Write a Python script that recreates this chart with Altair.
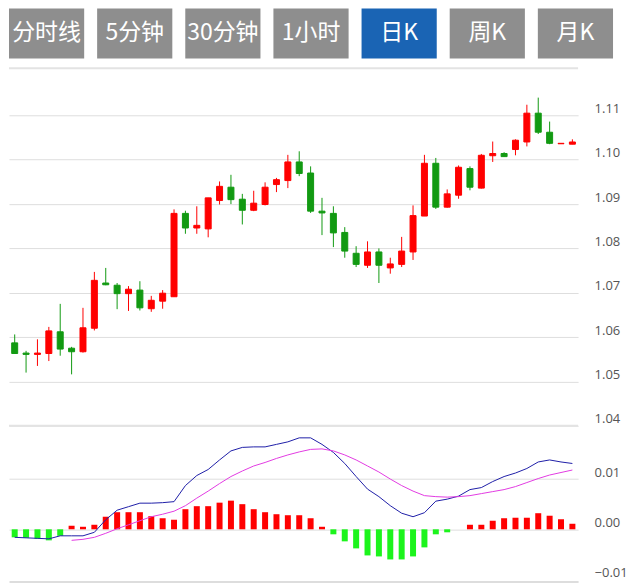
import altair as alt
import pandas as pd
import numpy as np

# ---------------- data ----------------
tabs = ["分时线", "5分钟", "30分钟", "1小时", "日K", "周K", "月K"]
active_tab = "日K"

opens = [1.0587, 1.0564, 1.0561, 1.0563, 1.0612, 1.0575, 1.0567, 1.0620, 1.0722, 1.0717,
         1.0698, 1.0706, 1.0664, 1.0681, 1.0691, 1.0879, 1.0846, 1.0844, 1.0908, 1.0938,
         1.0911, 1.0886, 1.0899, 1.0944, 1.0953, 1.0995, 1.0970, 1.0884, 1.0879, 1.0836,
         1.0789, 1.0762, 1.0792, 1.0756, 1.0764, 1.0792, 1.0873, 1.0992, 1.0893, 1.0920,
         1.0980, 1.0936, 1.1009, 1.1014, 1.1023, 1.1040, 1.1105, 1.1062, 1.1036, 1.1035]
highs = [1.0606, 1.0569, 1.0595, 1.0623, 1.0675, 1.0578, 1.0666, 1.0747, 1.0756, 1.0722,
         1.0715, 1.0726, 1.0693, 1.0706, 1.0888, 1.0885, 1.0895, 1.0914, 1.0951, 1.0966,
         1.0923, 1.0930, 1.0949, 1.0959, 1.1011, 1.1019, 1.0985, 1.0914, 1.0895, 1.0848,
         1.0805, 1.0816, 1.0800, 1.0779, 1.0826, 1.0897, 1.1011, 1.1004, 1.0933, 1.0987,
         1.0985, 1.1013, 1.1041, 1.1017, 1.1046, 1.1124, 1.1140, 1.1086, 1.1037, 1.1046]
lows = [1.0562, 1.0520, 1.0535, 1.0546, 1.0558, 1.0516, 1.0565, 1.0615, 1.0717, 1.0663,
        1.0659, 1.0660, 1.0657, 1.0664, 1.0691, 1.0833, 1.0833, 1.0825, 1.0899, 1.0900,
        1.0854, 1.0884, 1.0897, 1.0927, 1.0936, 1.0963, 1.0880, 1.0830, 1.0803, 1.0779,
        1.0758, 1.0756, 1.0722, 1.0743, 1.0758, 1.0774, 1.0873, 1.0889, 1.0892, 1.0912,
        1.0931, 1.0935, 1.0995, 1.1007, 1.1010, 1.1030, 1.1058, 1.1035, 1.1036, 1.1035]
closes = [1.0563, 1.0561, 1.0564, 1.0614, 1.0573, 1.0567, 1.0621, 1.0728, 1.0718, 1.0698,
          1.0708, 1.0666, 1.0683, 1.0699, 1.0879, 1.0846, 1.0852, 1.0914, 1.0940, 1.0910,
          1.0886, 1.0902, 1.0938, 1.0955, 1.0995, 1.0969, 1.0884, 1.0880, 1.0835, 1.0794,
          1.0764, 1.0792, 1.0762, 1.0765, 1.0794, 1.0874, 1.0992, 1.0893, 1.0923, 1.0983,
          1.0938, 1.1010, 1.1014, 1.1007, 1.1044, 1.1105, 1.1062, 1.1037, 1.1037, 1.1040]

macd_hist = [-0.0016, -0.0017, -0.0019, -0.0022, -0.0013, 0.0007, 0.0005, 0.0009, 0.0025, 0.0034,
             0.0034, 0.0034, 0.0026, 0.0022, 0.0019, 0.0040, 0.0046, 0.0046, 0.0053, 0.0057,
             0.0050, 0.0040, 0.0034, 0.0030, 0.0028, 0.0028, 0.0022, 0.0005, -0.0010, -0.0024,
             -0.0038, -0.0052, -0.0054, -0.0060, -0.0060, -0.0054, -0.0036, -0.0010, -0.0006, 0.0,
             0.0009, 0.0009, 0.0017, 0.0022, 0.0023, 0.0023, 0.0032, 0.0027, 0.0020, 0.0011]
dif = [-0.0016, -0.0017, -0.0018, -0.0019, -0.0013, -0.0013, -0.0013, -0.0006, 0.0019, 0.0038,
       0.0045, 0.0052, 0.0052, 0.0053, 0.0055, 0.0087, 0.0107, 0.0119, 0.0138, 0.0156,
       0.0163, 0.0164, 0.0164, 0.0169, 0.0174, 0.0182, 0.0182, 0.0169, 0.0153, 0.0131,
       0.0105, 0.0080, 0.0065, 0.0047, 0.0032, 0.0025, 0.0033, 0.0056, 0.0060, 0.0066,
       0.0079, 0.0083, 0.0095, 0.0105, 0.0112, 0.0121, 0.0134, 0.0138, 0.0134, 0.0131]
dea = [None, None, None, None, None, -0.0022, -0.0020, -0.0016, -0.0008, 0.0001,
       0.0009, 0.0017, 0.0025, 0.0030, 0.0036, 0.0047, 0.0062, 0.0076, 0.0091, 0.0105,
       0.0116, 0.0126, 0.0133, 0.0141, 0.0148, 0.0154, 0.0159, 0.0160, 0.0156, 0.0148,
       0.0138, 0.0126, 0.0114, 0.0100, 0.0087, 0.0076, 0.0067, 0.0065, 0.0064, 0.0065,
       0.0067, 0.0071, 0.0075, 0.0079, 0.0085, 0.0093, 0.0101, 0.0108, 0.0113, 0.0118]

price_ticks = [1.04, 1.05, 1.06, 1.07, 1.08, 1.09, 1.10, 1.11]
macd_ticks = [-0.01, 0.0, 0.01]
date_ticks = [3, 8, 13, 18, 23, 28, 33, 38, 43, 48]

PRICE_LO, PRICE_HI = 1.04, 1.1206
MACD_LO, MACD_HI = -0.0104, 0.0204

# ---------------- style ----------------
RED = "#ff0000"
GREEN = "#129a12"
BAR_GREEN = "#1cf41c"
GRAY_BTN = "#8e8e8e"
BLUE_BTN = "#1a64b4"
GRID = "#dedede"
BORDER = "#e3e3e3"
LABEL = "#555555"
FONT = "Open Sans"

n = len(opens)
idx = list(range(n))
candles = pd.DataFrame({"i": idx, "open": opens, "high": highs, "low": lows, "close": closes})
macd = pd.DataFrame({"i": idx, "hist": macd_hist, "dif": dif,
                     "dea": [np.nan if v is None else v for v in dea]})

W = 570
xs = alt.Scale(domain=[-0.5, n - 0.5], nice=False, zero=False, padding=0)

# ---------------- tab buttons ----------------
tabs_df = pd.DataFrame({"tab": tabs})
bx = alt.X("tab:N", sort=tabs, scale=alt.Scale(paddingInner=0.147, paddingOuter=0), axis=None)
btn = alt.Chart(tabs_df).mark_bar().encode(
    x=bx, y=alt.value(0), y2=alt.value(50),
    color=alt.condition(f"datum.tab == '{active_tab}'", alt.value(BLUE_BTN), alt.value(GRAY_BTN)),
)
btn_txt = alt.Chart(tabs_df).mark_text(font="Noto Sans CJK SC", fontSize=23, color="white",
                                        baseline="middle").encode(
    x=bx, y=alt.value(25), text="tab:N")
buttons = alt.layer(btn, btn_txt).properties(width=605, height=59)

# ---------------- candlestick ----------------
ys = alt.Scale(domain=[PRICE_LO, PRICE_HI], nice=False, zero=False)
price_axis = alt.Axis(orient="right", values=price_ticks, format=".2f", grid=True,
                      gridColor=GRID, gridWidth=1, ticks=False, domain=False,
                      labelPadding=16, labelBaseline="bottom", labelFont=FONT,
                      labelFontSize=13, labelColor=LABEL, title=None)
up = "datum.close >= datum.open"
ccol = alt.condition(up, alt.value(RED), alt.value(GREEN))

cbase = alt.Chart(candles).encode(x=alt.X("i:Q", scale=xs, axis=None))
wick = cbase.mark_rule(strokeWidth=1).encode(
    y=alt.Y("low:Q", scale=ys, axis=price_axis), y2="high:Q", color=ccol)
body = cbase.mark_bar(size=6, strokeWidth=1).encode(
    y=alt.Y("open:Q", scale=ys), y2="close:Q", color=ccol, stroke=ccol)
border = alt.Chart(pd.DataFrame({"v": [PRICE_LO, PRICE_HI]})).mark_rule(
    color=BORDER, strokeWidth=2).encode(y=alt.Y("v:Q", scale=ys))
candle_chart = alt.layer(border, wick, body).properties(width=W, height=358)

# ---------------- MACD ----------------
ms = alt.Scale(domain=[MACD_LO, MACD_HI], nice=False, zero=False)
macd_axis = alt.Axis(orient="right", values=macd_ticks, format=".2f", grid=True,
                     gridColor=GRID, gridWidth=1,
                     gridOpacity={"condition": {"test": "datum.value < -0.005", "value": 0}, "value": 1},
                     ticks=False, domain=False,
                     labelPadding=16, labelBaseline="bottom", labelFont=FONT,
                     labelFontSize=13, labelColor=LABEL, title=None)
x_axis = alt.Axis(values=date_ticks, labels=False, ticks=True, tickColor="#c9d0e0",
                  tickSize=5, domainColor="#dddddd", domainWidth=2, grid=False, title=None)
mbase = alt.Chart(macd).encode(x=alt.X("i:Q", scale=xs, axis=x_axis))
hist = mbase.mark_bar(size=6, orient="vertical").encode(
    y=alt.Y("hist:Q", scale=ms, axis=macd_axis), y2=alt.datum(0),
    color=alt.condition("datum.hist >= 0", alt.value(RED), alt.value(BAR_GREEN)))
dif_line = mbase.mark_line(color="#1f1fa8", strokeWidth=1).encode(y=alt.Y("dif:Q", scale=ms))
dea_line = mbase.mark_line(color="#e23be2", strokeWidth=1).encode(y=alt.Y("dea:Q", scale=ms))
macd_chart = alt.layer(hist, dif_line, dea_line).properties(width=W, height=155)

chart = alt.vconcat(buttons, candle_chart, macd_chart, spacing=0).resolve_scale(
    x="independent", y="independent"
).properties(padding=0).configure_view(strokeWidth=0)

chart.save("out.html", embed_options={"renderer": "svg", "actions": False})
